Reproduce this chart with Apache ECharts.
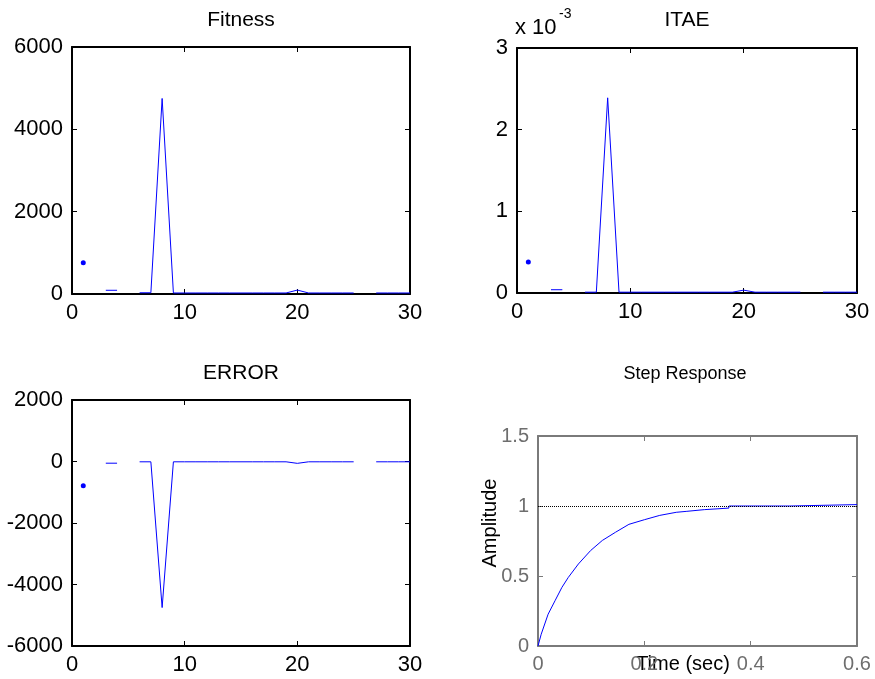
<!DOCTYPE html>
<html>
<head>
<meta charset="utf-8">
<script src="https://cdn.jsdelivr.net/npm/echarts@6/dist/echarts.min.js"></script>
<style>
  html, body { margin: 0; padding: 0; background: #fff; }
  #chart { width: 875px; height: 679px; }
</style>
</head>
<body>
<div id="chart"></div>
<script>
// generation number (x of the three GA plots)
var generations = [1, 2, 3, 4, 5, 6, 7, 8, 9, 10, 11, 12, 13, 14, 15, 16, 17, 18, 19, 20, 21, 22, 23, 24, 25, 26, 27, 28, 29, 30];
// null = gap in the line
var fitness = [760, null, 90, 90, null, 30, 30, 4750, 25, 25, 25, 25, 25, 25, 25, 25, 25, 25, 25, 95, 25, 25, 25, 25, 25, null, 25, 25, 25, 25];
var itae = [0.00038, null, 0.00004, 0.00004, null, 0.00001, 0.00001, 0.00239, 0.00001, 0.00001, 0.00001, 0.00001, 0.00001, 0.00001, 0.00001, 0.00001, 0.00001, 0.00001, 0.00001, 0.000035, 0.00001, 0.00001, 0.00001, 0.00001, 0.00001, null, 0.00001, 0.00001, 0.00001, 0.00001];
var errorVals = [-790, null, -55, -55, null, -10, -10, -4750, -10, -10, -10, -10, -10, -10, -10, -10, -10, -10, -10, -60, -10, -10, -10, -10, -10, null, -10, -10, -10, -10];

// step response
var stepTime = [0, 0.006, 0.019, 0.032, 0.045, 0.057, 0.076, 0.099, 0.121, 0.146, 0.171, 0.2, 0.229, 0.26, 0.28, 0.28, 0.313, 0.313, 0.359, 0.359, 0.474, 0.474, 0.6];
var stepAmp = [0, 0.084, 0.227, 0.323, 0.419, 0.49, 0.586, 0.682, 0.754, 0.813, 0.869, 0.902, 0.933, 0.955, 0.962, 0.974, 0.974, 0.985, 0.985, 1.0, 1.0, 1.01, 1.01];
var stepRef = 1;

var gaTicksX = [0, 30, 10];            // min, max, interval
var fitTicks = [0, 6000, 2000];
var itaeTicks = [0, 0.003, 0.001];
var errTicks = [-6000, 2000, 2000];
var stepTicksX = [0, 0.6, 0.2];
var stepTicksY = [0, 1.5, 0.5];

var FONT = '"Liberation Sans", Arial, sans-serif';

// isolated points get a dot, everything else is just the line
function lineData(xs, ys) {
  return xs.map(function (x, i) {
    var y = ys[i];
    if (y == null) return { value: [x, '-'] };
    var alone = (i === 0 || ys[i - 1] == null) && (i === ys.length - 1 || ys[i + 1] == null);
    if (alone) return { value: [x, y], symbol: 'circle', symbolSize: 5 };
    return { value: [x, y] };
  });
}

var grids = [
  { left: 72, top: 47, width: 338, height: 247 },   // Fitness
  { left: 517, top: 48, width: 340, height: 245 },  // ITAE
  { left: 72, top: 400, width: 338, height: 246 },  // ERROR
  { left: 538, top: 436, width: 319, height: 210 }  // Step Response
];

var xAxes = [], yAxes = [];

function addAxes(g, xt, yt, color, labelColor, fontSize, boxWidth, yFmt) {
  ['bottom', 'top'].forEach(function (pos, k) {
    xAxes.push({
      type: 'value', gridIndex: g, position: pos,
      min: xt[0], max: xt[1], interval: xt[2],
      splitLine: { show: false },
      axisLine: { show: true, onZero: false, lineStyle: { color: color, width: boxWidth } },
      axisTick: { show: true, inside: true, length: 5, lineStyle: { color: color, width: 1 } },
      axisLabel: { show: k === 0, color: labelColor, fontSize: fontSize, fontFamily: FONT, margin: 8,
        formatter: function (v) { return String(Math.round(v * 1000) / 1000); } }
    });
  });
  ['left', 'right'].forEach(function (pos, k) {
    yAxes.push({
      type: 'value', gridIndex: g, position: pos,
      min: yt[0], max: yt[1], interval: yt[2],
      splitLine: { show: false },
      axisLine: { show: true, onZero: false, lineStyle: { color: color, width: boxWidth } },
      axisTick: { show: true, inside: true, length: 5, lineStyle: { color: color, width: 1 } },
      axisLabel: { show: k === 0, color: labelColor, fontSize: fontSize, fontFamily: FONT, margin: 9,
        formatter: yFmt || function (v) { return String(Math.round(v * 1000) / 1000); } }
    });
  });
}

addAxes(0, gaTicksX, fitTicks, '#000', '#000', 22, 2);
addAxes(1, gaTicksX, itaeTicks, '#000', '#000', 22, 2, function (v) { return String(Math.round(v * 1000)); });
addAxes(2, gaTicksX, errTicks, '#000', '#000', 22, 2);
addAxes(3, stepTicksX, stepTicksY, '#7a7a7a', '#6e6e6e', 20, 2);

function gaSeries(g, ys) {
  return {
    type: 'line', xAxisIndex: g * 2, yAxisIndex: g * 2,
    data: lineData(generations, ys),
    symbol: 'none', showSymbol: true, showAllSymbol: true,
    connectNulls: false,
    lineStyle: { color: '#0000ff', width: 1 },
    itemStyle: { color: '#0000ff' },
    silent: true
  };
}

var series = [
  gaSeries(0, fitness),
  gaSeries(1, itae),
  gaSeries(2, errorVals),
  {
    type: 'line', xAxisIndex: 6, yAxisIndex: 6,
    data: stepTime.map(function (t, i) { return [t, stepAmp[i]]; }),
    showSymbol: false,
    lineStyle: { color: '#0000ff', width: 1 },
    silent: true,
    markLine: {
      silent: true, symbol: 'none', label: { show: false },
      lineStyle: { color: '#000', type: 'dotted', width: 1 },
      data: [{ yAxis: stepRef }]
    }
  }
];

function txt(x, y, text, size, extra) {
  var el = {
    type: 'text', x: x, y: y, silent: true,
    style: { text: text, fill: '#000', font: size + 'px ' + FONT, align: 'center', verticalAlign: 'middle' }
  };
  if (extra) for (var k in extra) el[k] = extra[k];
  return el;
}

var graphics = [
  txt(241, 20, 'Fitness', 21),
  txt(687, 20, 'ITAE', 21),
  txt(241, 373, 'ERROR', 21),
  txt(685, 374, 'Step Response', 18),
  txt(683, 664, 'Time (sec)', 20),
  txt(490, 523, 'Amplitude', 20, { rotation: Math.PI / 2 })
];
var xTen = txt(515, 28, 'x 10', 22); xTen.style.align = 'left'; graphics.push(xTen);
var expo = txt(559, 14, '-3', 14); expo.style.align = 'left'; graphics.push(expo);

var chart = echarts.init(document.getElementById('chart'), null, { renderer: 'canvas' });
chart.setOption({
  animation: false,
  backgroundColor: '#fff',
  grid: grids,
  xAxis: xAxes,
  yAxis: yAxes,
  series: series,
  graphic: graphics
});
</script>
</body>
</html>
